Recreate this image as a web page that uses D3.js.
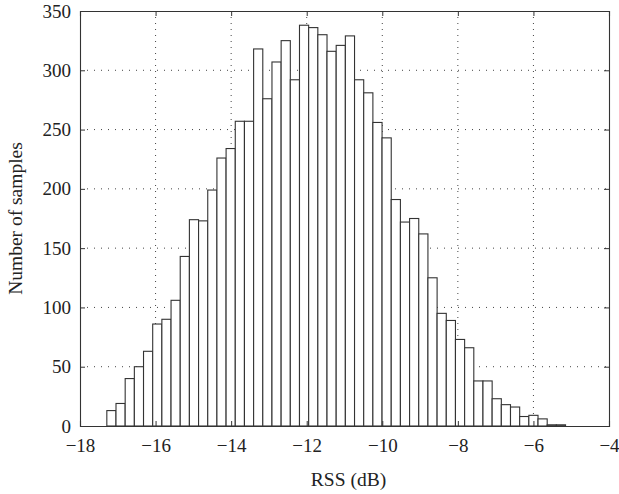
<!DOCTYPE html>
<meta charset="utf-8">
<style>
body { margin: 0; background: #fff; }
svg text { font-family: "Liberation Serif", "DejaVu Serif", serif; fill: #222; }
</style>
<svg width="619" height="494"></svg>
<script src="https://d3js.org/d3.v7.min.js"></script>
<script>
// histogram: 50 bins, first bin starts at binStart, each binWidth wide
var binStart = -17.29, binWidth = 0.2428;
var counts = [13, 19, 40, 50, 63, 86, 90, 106, 143, 174,
              173, 199, 226, 234, 257, 257, 318, 276, 307, 325,
              292, 338, 336, 330, 316, 321, 329, 292, 281, 256,
              243, 191, 172, 175, 162, 125, 95, 89, 73, 66,
              38, 38, 23, 18, 16, 8, 9, 6, 1, 1];
var xTicks = [-18, -16, -14, -12, -10, -8, -6, -4];
var yTicks = [0, 50, 100, 150, 200, 250, 300, 350];

var svg = d3.select("svg"),
    margin = {top: 11, right: 10, bottom: 68, left: 80},
    width = +svg.attr("width") - margin.left - margin.right,
    height = +svg.attr("height") - margin.top - margin.bottom;

var x = d3.scaleLinear().domain([-18, -4]).range([0, width]),
    y = d3.scaleLinear().domain([0, 350]).range([height, 0]);

var g = svg.append("g")
    .attr("transform", "translate(" + margin.left + "," + margin.top + ")");

var fmt = function(d) { return d < 0 ? "\u2212" + Math.abs(d) : d; };

// dotted grid
g.append("g").selectAll("line")
    .data(xTicks.slice(1, -1))
    .enter().append("line")
        .attr("x1", function(d) { return x(d); })
        .attr("x2", function(d) { return x(d); })
        .attr("y1", 0).attr("y2", height)
        .attr("stroke", "#444").attr("stroke-width", 1)
        .attr("stroke-dasharray", "1,5");
g.append("g").selectAll("line")
    .data(yTicks.slice(1, -1))
    .enter().append("line")
        .attr("y1", function(d) { return y(d); })
        .attr("y2", function(d) { return y(d); })
        .attr("x1", 0).attr("x2", width)
        .attr("stroke", "#444").attr("stroke-width", 1)
        .attr("stroke-dasharray", "1,6");

// bars
g.selectAll(".bar")
    .data(counts)
    .enter().append("rect")
        .attr("class", "bar")
        .attr("x", function(d, i) { return x(binStart + i * binWidth); })
        .attr("y", function(d) { return y(d); })
        .attr("width", function(d, i) { return x(binStart + (i + 1) * binWidth) - x(binStart + i * binWidth); })
        .attr("height", function(d) { return height - y(d); })
        .attr("fill", "#fff")
        .attr("stroke", "#333")
        .attr("stroke-width", 1.1);

// axes, matlab style: ticks inside on all four sides
var tk = 5;
var axBottom = g.append("g")
    .attr("transform", "translate(0," + height + ")")
    .call(d3.axisBottom(x).tickValues(xTicks).tickSize(-tk).tickPadding(13).tickFormat(fmt));
var axTop = g.append("g")
    .call(d3.axisTop(x).tickValues(xTicks).tickSize(-tk).tickFormat(""));
var axLeft = g.append("g")
    .call(d3.axisLeft(y).tickValues(yTicks).tickSize(-tk).tickPadding(9));
var axRight = g.append("g")
    .attr("transform", "translate(" + width + ",0)")
    .call(d3.axisRight(y).tickValues(yTicks).tickSize(-tk).tickFormat(""));

[axBottom, axTop, axLeft, axRight].forEach(function(a) {
    a.select(".domain").attr("stroke", "#333").attr("stroke-width", 1.1);
    a.selectAll(".tick line").attr("stroke", "#333");
    a.selectAll("text").style("font-size", "19px")
        .style("font-family", "'Liberation Serif', serif").attr("fill", "#222");
});

// axis titles
svg.append("text")
    .attr("x", margin.left + width / 2 + 4)
    .attr("y", 486)
    .attr("text-anchor", "middle")
    .style("font-size", "19.5px")
    .text("RSS (dB)");
svg.append("text")
    .attr("transform", "translate(22," + (margin.top + height / 2) + ") rotate(-90)")
    .attr("text-anchor", "middle")
    .style("font-size", "19.5px")
    .text("Number of samples");
</script>
